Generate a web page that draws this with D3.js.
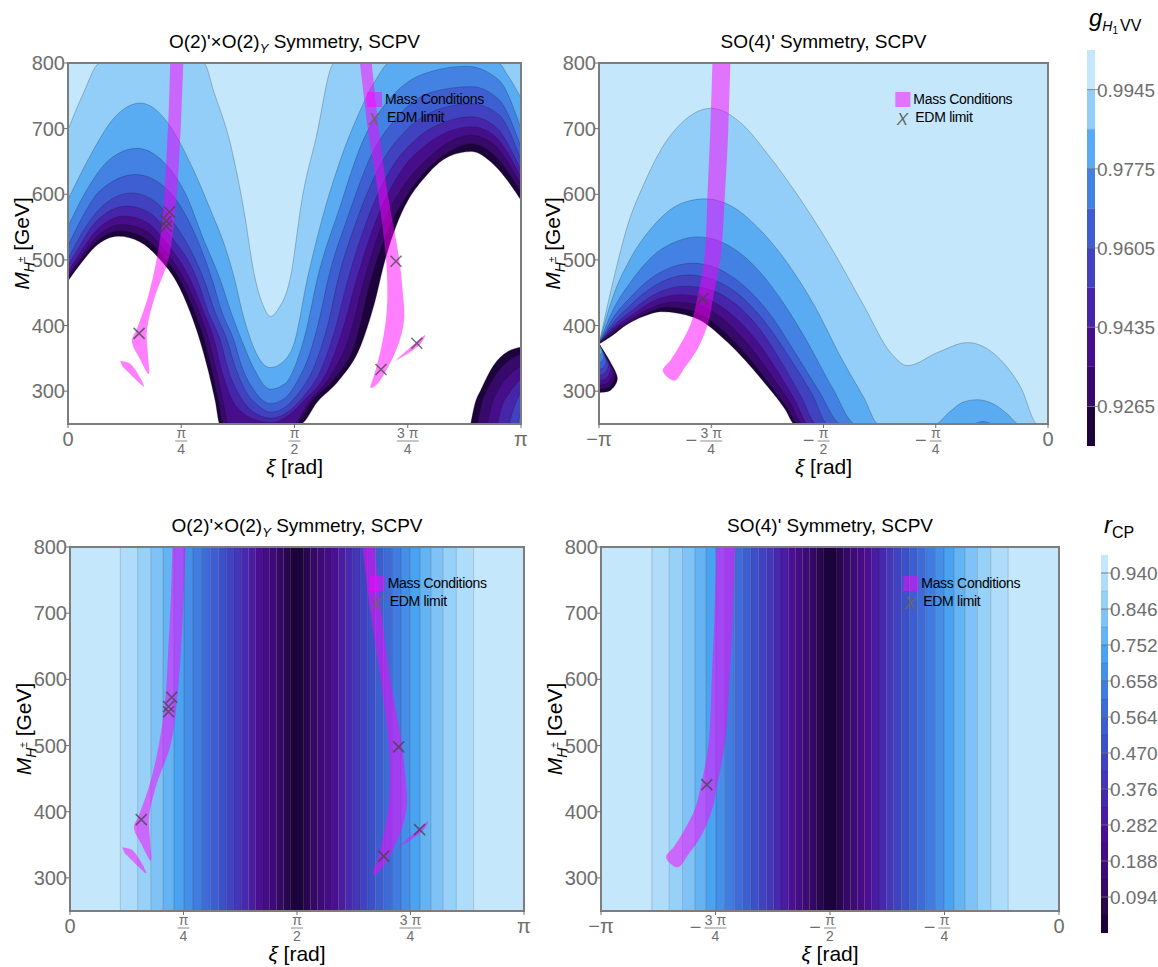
<!DOCTYPE html>
<html>
<head>
<meta charset="utf-8">
<script src="https://cdn.jsdelivr.net/npm/d3@7"></script>
<style>
  body { margin: 0; background: #fff; }
  svg text { font-family: "Liberation Sans", Arial, sans-serif; }
</style>
</head>
<body>
<svg id="chart" width="1158" height="967"></svg>
<script>
// ---- data ----
var gBandEdges = [0.918, 0.9265, 0.935, 0.9435, 0.952, 0.9605, 0.969, 0.9775, 0.986, 0.9945, 1.003]
var gTickValues = [0.9265, 0.9435, 0.9605, 0.9775, 0.9945]
var rBandEdges = [0, 0.047, 0.094, 0.141, 0.188, 0.235, 0.282, 0.329, 0.376, 0.423, 0.470,
                  0.517, 0.564, 0.611, 0.658, 0.705, 0.752, 0.799, 0.846, 0.893, 0.940, 0.987]
var rTickValues = [0.094, 0.188, 0.282, 0.376, 0.470, 0.564, 0.658, 0.752, 0.846, 0.940]
var colorStops = ["#1d033b", "#3a0a70", "#4b0f93", "#4530b5", "#3c50c9", "#3f72dc", "#4aa3f0", "#8ccbf7", "#c4e7fc"]

var yTickValues = [300, 400, 500, 600, 700, 800]
var xTicksO2 = [{v: 0, text: "0"}, {v: 0.25, num: "π", den: "4"}, {v: 0.5, num: "π", den: "2"},
                {v: 0.75, num: "3 π", den: "4"}, {v: 1, text: "π"}]
var xTicksSO4 = [{v: -1, text: "−π"}, {v: -0.75, neg: true, num: "3 π", den: "4"},
                 {v: -0.5, neg: true, num: "π", den: "2"}, {v: -0.25, neg: true, num: "π", den: "4"}, {v: 0, text: "0"}]

// g_H1VV contour levels, O(2)'xO(2)_Y panel: [xi/pi, M_H+ GeV], level 0.918 ... 0.9945
var o2Contours = [
  [[0,468],[0.03,496],[0.06,520],[0.111,536],[0.16,527],[0.2,503],[0.24,466],[0.27,420],[0.29,380],[0.31,330],[0.325,285],[0.335,250],[0.513,250],[0.55,283],[0.60,318],[0.646,369],[0.675,430],[0.70,500],[0.724,551],[0.75,590],[0.783,622],[0.842,658],[0.89,665],[0.94,645],[1,591]],
  [[0,472],[0.03,501],[0.06,526],[0.115,544],[0.165,535],[0.205,510],[0.25,466],[0.28,420],[0.30,380],[0.318,330],[0.332,285],[0.343,250],[0.503,250],[0.54,286],[0.592,322],[0.635,375],[0.665,460],[0.70,535],[0.75,600],[0.80,643],[0.85,668],[0.89,677],[0.94,660],[1,603]],
  [[0,476],[0.03,506],[0.06,533],[0.12,554],[0.17,545],[0.21,518],[0.26,466],[0.29,420],[0.31,380],[0.328,330],[0.342,285],[0.355,250],[0.498,250],[0.53,282],[0.582,326],[0.622,385],[0.652,465],[0.69,548],[0.74,612],[0.80,658],[0.85,683],[0.89,690],[0.94,676],[1,614]],
  [[0,482],[0.03,514],[0.06,543],[0.125,567],[0.175,557],[0.215,528],[0.27,470],[0.30,420],[0.322,380],[0.34,330],[0.36,290],[0.39,265],[0.42,255],[0.45,252],[0.48,260],[0.52,285],[0.572,330],[0.607,395],[0.637,470],[0.68,560],[0.73,630],[0.79,675],[0.85,698],[0.89,703],[0.94,690],[1,625]],
  [[0,491],[0.03,526],[0.06,557],[0.13,582],[0.18,572],[0.22,542],[0.285,470],[0.31,420],[0.335,380],[0.355,330],[0.38,292],[0.41,268],[0.447,259],[0.48,266],[0.52,292],[0.56,335],[0.59,395],[0.618,470],[0.66,560],[0.71,635],[0.77,685],[0.84,712],[0.89,718],[0.94,705],[1,637]],
  [[0,501],[0.03,540],[0.07,578],[0.14,602],[0.19,590],[0.235,555],[0.30,470],[0.325,420],[0.35,380],[0.37,335],[0.395,297],[0.42,278],[0.447,268],[0.48,276],[0.51,298],[0.545,340],[0.575,405],[0.596,470],[0.64,565],[0.69,645],[0.75,700],[0.82,730],[0.89,738],[0.95,722],[1,652]],
  [[0,521],[0.03,563],[0.07,605],[0.15,630],[0.2,618],[0.25,580],[0.318,470],[0.34,420],[0.365,380],[0.385,335],[0.41,302],[0.447,281],[0.48,290],[0.51,320],[0.53,350],[0.555,410],[0.574,470],[0.62,570],[0.67,660],[0.73,720],[0.80,755],[0.89,764],[0.95,745],[1,672]],
  [[0,551],[0.04,605],[0.09,652],[0.152,670],[0.21,650],[0.26,600],[0.30,530],[0.336,470],[0.36,420],[0.385,375],[0.41,335],[0.447,303],[0.48,312],[0.505,345],[0.525,390],[0.55,470],[0.60,580],[0.65,680],[0.71,745],[0.78,782],[0.88,795],[0.95,775],[1,700]],
  [[0,592],[0.05,660],[0.1,715],[0.16,739],[0.2,725],[0.226,703],[0.277,637],[0.314,577],[0.351,511],[0.368,470],[0.385,420],[0.40,385],[0.42,352],[0.447,336],[0.475,345],[0.50,375],[0.528,470],[0.56,560],[0.60,650],[0.64,720],[0.68,775],[0.71,800],[0.95,800],[0.97,782],[1,747]],
  [[0,698],[0.034,754],[0.071,800],[0.299,800],[0.323,754],[0.358,678],[0.388,577],[0.412,475],[0.43,432],[0.447,414],[0.465,426],[0.49,470],[0.518,598],[0.547,684],[0.588,800],[1,800]]
]
// island in the lower right corner of the O(2) panel (levels 0.918 ... 0.9605)
var o2Island = [
  [[0.889,250],[0.898,280],[0.912,303],[0.94,340],[0.97,360],[1,367]],
  [[0.904,250],[0.912,278],[0.93,308],[0.955,335],[0.98,350],[1,357]],
  [[0.926,250],[0.935,278],[0.95,302],[0.975,325],[1,338]],
  [[0.948,250],[0.957,275],[0.975,298],[1,319]],
  [[0.974,250],[0.983,272],[1,299]],
  [[0.993,250],[1,270]]
]

// SO(4)' panel contours, same levels
var so4Contours = [
  [[-1,372],[-0.97,385],[-0.937,402],[-0.9,414],[-0.862,421],[-0.787,412],[-0.713,374],[-0.638,318],[-0.586,273],[-0.564,250],[0,250]],
  [[-1,372],[-0.97,388],[-0.93,405],[-0.89,420],[-0.85,428],[-0.79,422],[-0.73,396],[-0.67,354],[-0.62,310],[-0.585,278],[-0.556,250],[0,250]],
  [[-1,372],[-0.97,391],[-0.93,409],[-0.88,428],[-0.835,436],[-0.78,432],[-0.72,408],[-0.66,365],[-0.61,318],[-0.575,283],[-0.546,250],[0,250]],
  [[-1,372],[-0.97,394],[-0.93,414],[-0.88,437],[-0.82,447],[-0.77,443],[-0.71,420],[-0.65,378],[-0.60,328],[-0.565,288],[-0.533,250],[0,250]],
  [[-1,372],[-0.97,398],[-0.93,421],[-0.88,446],[-0.81,460],[-0.76,456],[-0.70,435],[-0.64,393],[-0.59,340],[-0.55,292],[-0.515,250],[0,250]],
  [[-1,372],[-0.97,403],[-0.93,431],[-0.88,459],[-0.80,477],[-0.75,471],[-0.69,448],[-0.63,405],[-0.57,345],[-0.525,295],[-0.49,250],[0,250]],
  [[-1,372],[-0.97,410],[-0.93,443],[-0.88,474],[-0.79,495],[-0.74,488],[-0.68,462],[-0.62,418],[-0.56,355],[-0.51,300],[-0.46,250],[0,250]],
  [[-1,372],[-0.97,422],[-0.93,466],[-0.88,506],[-0.82,530],[-0.78,535],[-0.72,525],[-0.66,495],[-0.60,445],[-0.54,380],[-0.48,305],[-0.428,250],[-0.17,250],[-0.145,254],[-0.12,250],[0,250]],
  [[-1,372],[-0.97,442],[-0.93,502],[-0.88,551],[-0.82,585],[-0.765,593],[-0.70,580],[-0.64,545],[-0.58,495],[-0.52,430],[-0.46,350],[-0.41,290],[-0.377,250],[-0.252,250],[-0.22,268],[-0.19,283],[-0.158,287],[-0.12,280],[-0.09,265],[-0.064,250],[0,250]],
  [[-1,372],[-0.966,475],[-0.937,551],[-0.899,617],[-0.862,668],[-0.817,708],[-0.75,731],[-0.683,708],[-0.623,660],[-0.559,600],[-0.485,521],[-0.41,430],[-0.351,359],[-0.313,339],[-0.246,359],[-0.179,374],[-0.112,352],[-0.06,305],[-0.023,250],[0,250]]
]
// small lobe at the left edge of the SO(4)' panel
var so4Island = [
  [[-1,372],[-0.975,345],[-0.959,318],[-0.975,301],[-1,298]],
  [[-1,372],[-0.979,347],[-0.964,322],[-0.979,306],[-1,303]],
  [[-1,372],[-0.982,349],[-0.969,327],[-0.982,312],[-1,309]],
  [[-1,372],[-0.985,352],[-0.974,333],[-0.985,319],[-1,316]],
  [[-1,372],[-0.988,355],[-0.979,339],[-0.988,327],[-1,324]],
  [[-1,372],[-0.99,358],[-0.984,346],[-0.99,336],[-1,333]],
  [[-1,372],[-0.993,362],[-0.989,353],[-0.993,346],[-1,343]],
  [[-1,372],[-0.996,366],[-0.993,360],[-0.996,356],[-1,354]],
  [[-1,372],[-0.998,369],[-0.997,366],[-0.998,365],[-1,364]]
]

// r_CP band boundaries (xi/pi)
var rcpEdges = [0.111,0.149,0.178,0.205,0.229,0.251,0.271,0.291,0.309,0.327,0.344,0.361,0.377,0.393,0.409,0.425,0.440,0.455,0.470,0.485,
                0.515,0.530,0.545,0.560,0.575,0.591,0.607,0.623,0.639,0.656,0.673,0.691,0.709,0.729,0.749,0.771,0.795,0.822,0.851,0.889]

// mass condition regions (outlines) and EDM limit points
var massO2 = [
  [[0.226,810],[0.222,720],[0.216,640],[0.211,578],[0.196,502],[0.175,440],[0.152,395],[0.141,376],[0.158,350],[0.178,326],[0.176,360],[0.174,391],[0.19,440],[0.222,502],[0.237,578],[0.245,650],[0.25,720],[0.255,810]],
  [[0.115,346],[0.137,342],[0.168,307],[0.12,338]],
  [[0.643,810],[0.662,700],[0.684,603],[0.702,502],[0.705,451],[0.702,410],[0.691,365],[0.676,325],[0.668,305],[0.680,309],[0.709,340],[0.731,375],[0.742,410],[0.739,451],[0.731,502],[0.705,603],[0.686,700],[0.669,810]],
  [[0.722,346],[0.755,366],[0.788,385],[0.778,372],[0.745,355]]
]
var massSO4 = [
  [[-0.747,810],[-0.752,700],[-0.758,606],[-0.765,505],[-0.78,445],[-0.795,404],[-0.82,370],[-0.84,348],[-0.858,331],[-0.832,316],[-0.81,335],[-0.78,365],[-0.757,404],[-0.745,445],[-0.729,505],[-0.719,606],[-0.712,700],[-0.707,810]]
]
var edmO2 = [[0.224,573],[0.217,559],[0.217,551],[0.157,388],[0.724,498],[0.770,373],[0.691,333]]
var edmSO4 = [[-0.769,441]]

// ---- drawing ----
var svg = d3.select("#chart")
var defs = svg.append("defs")
var interp = d3.piecewise(d3.interpolateRgb, colorStops)
function gColor(k) { return interp(k / (gBandEdges.length - 2)) }
function rColor(k) { return interp(k / (rBandEdges.length - 2)) }

var panels = [
  {id: "tl", x0: 68, x1: 521, y0: 63, y1: 424, dom: [0, 1], ticks: xTicksO2, kind: "g", contours: o2Contours, island: o2Island, mass: massO2, edm: edmO2, title: "o2"},
  {id: "tr", x0: 599, x1: 1048, y0: 63, y1: 424, dom: [-1, 0], ticks: xTicksSO4, kind: "g", contours: so4Contours, loops: so4Island, mass: massSO4, edm: edmSO4, title: "so4"},
  {id: "bl", x0: 70, x1: 524, y0: 547, y1: 911, dom: [0, 1], ticks: xTicksO2, kind: "r", offset: 0, mass: massO2, edm: edmO2, title: "o2"},
  {id: "br", x0: 601, x1: 1059, y0: 547, y1: 911, dom: [-1, 0], ticks: xTicksSO4, kind: "r", offset: -1, mass: massSO4, edm: edmSO4, title: "so4"}
]

var tickGray = "#6e6e6e"

function drawPanel(p) {
    let x = d3.scaleLinear().domain(p.dom).range([p.x0, p.x1])
    let y = d3.scaleLinear().domain([250, 800]).range([p.y1, p.y0])

    defs.append("clipPath").attr("id", "clip_" + p.id)
        .append("rect").attr("x", p.x0).attr("y", p.y0)
        .attr("width", p.x1 - p.x0).attr("height", p.y1 - p.y0)
    let g = svg.append("g").attr("clip-path", "url(#clip_" + p.id + ")")

    if (p.kind === "g") {
        let above = d3.area().x(d => x(d[0])).y0(p.y0).y1(d => y(d[1])).curve(d3.curveMonotoneX)
        let line = d3.line().x(d => x(d[0])).y(d => y(d[1])).curve(d3.curveMonotoneX)
        p.contours.forEach((c, k) => {
            g.append("path").attr("d", above(c)).attr("fill", gColor(k))
        })
        p.contours.forEach(c => {
            g.append("path").attr("d", line(c)).attr("fill", "none")
                .attr("stroke", "#111").attr("stroke-opacity", 0.4).attr("stroke-width", 0.6)
        })
        if (p.island) {
            let below = d3.area().x(d => x(d[0])).y0(p.y1).y1(d => y(d[1])).curve(d3.curveMonotoneX)
            p.island.forEach((c, k) => {
                g.append("path").attr("d", below(c)).attr("fill", gColor(k))
                    .attr("stroke", "#111").attr("stroke-opacity", 0.4).attr("stroke-width", 0.6)
            })
        }
        if (p.loops) {
            let loop = d3.line().x(d => x(d[0])).y(d => y(d[1])).curve(d3.curveCatmullRom)
            p.loops.forEach((c, k) => {
                g.append("path").attr("d", loop(c)).attr("fill", gColor(k))
                    .attr("stroke", "#111").attr("stroke-opacity", 0.4).attr("stroke-width", 0.6)
            })
        }
    } else {
        let edges = [0].concat(rcpEdges, [1]).map(e => e + p.offset)
        let mid = (edges.length - 2) / 2
        for (let i = 0; i < edges.length - 1; i++) {
            g.append("rect")
                .attr("x", x(edges[i])).attr("y", p.y0)
                .attr("width", x(edges[i + 1]) - x(edges[i])).attr("height", p.y1 - p.y0)
                .attr("fill", rColor(Math.abs(mid - i)))
        }
        rcpEdges.forEach(e => {
            g.append("line").attr("x1", x(e + p.offset)).attr("x2", x(e + p.offset))
                .attr("y1", p.y0).attr("y2", p.y1)
                .attr("stroke", "#111").attr("stroke-opacity", 0.3).attr("stroke-width", 0.6)
        })
    }

    // mass conditions
    let shape = d3.line().x(d => x(d[0])).y(d => y(d[1])).curve(d3.curveCatmullRom)
    p.mass.forEach(m => {
        g.append("path").attr("d", shape(m)).attr("fill", "#ff00ff").attr("fill-opacity", 0.5)
    })

    // EDM limit crosses
    p.edm.forEach(d => cross(g, x(d[0]), y(d[1])))

    // legend
    let lx = p.x0 + 0.66 * (p.x1 - p.x0), ly = p.y0 + 29
    svg.append("rect").attr("x", lx).attr("y", ly).attr("width", 15).attr("height", 15)
        .attr("fill", "#ff00ff").attr("fill-opacity", 0.5)
    svg.append("text").attr("x", lx + 18).attr("y", ly + 12).style("font-size", "14px")
        .style("letter-spacing", "-0.3px").text("Mass Conditions")
    svg.append("text").attr("x", lx + 7).attr("y", ly + 33).attr("text-anchor", "middle")
        .style("font-size", "17px").style("font-style", "italic").attr("fill", "#666").text("X")
    svg.append("text").attr("x", lx + 20).attr("y", ly + 30).style("font-size", "14px")
        .style("letter-spacing", "-0.3px").text("EDM limit")

    // frame
    svg.append("rect").attr("x", p.x0).attr("y", p.y0)
        .attr("width", p.x1 - p.x0).attr("height", p.y1 - p.y0)
        .attr("fill", "none").attr("stroke", "#7d7d7d").attr("stroke-width", 2)

    // y ticks
    yTickValues.forEach(v => {
        svg.append("line").attr("x1", p.x0 - 4).attr("x2", p.x0).attr("y1", y(v)).attr("y2", y(v))
            .attr("stroke", tickGray).attr("stroke-width", 1)
        svg.append("text").attr("x", p.x0 - 3).attr("y", y(v) + 7).attr("text-anchor", "end")
            .style("font-size", "20px").attr("fill", tickGray).text(v)
    })
    // x ticks
    p.ticks.forEach(t => {
        let xp = x(t.v)
        svg.append("line").attr("x1", xp).attr("x2", xp).attr("y1", p.y1).attr("y2", p.y1 + 4)
            .attr("stroke", tickGray).attr("stroke-width", 1)
        xTickLabel(xp, p.y1, t)
    })

    // titles and axis labels
    let cx = (p.x0 + p.x1) / 2
    let tt = svg.append("text").attr("x", cx).attr("y", p.y0 - 15).attr("text-anchor", "middle")
        .style("font-size", "19px")
    if (p.title === "o2") {
        tt.append("tspan").text("O(2)'×O(2)")
        tt.append("tspan").attr("dy", 5).style("font-size", "13px").style("font-style", "italic").text("Y")
        tt.append("tspan").attr("dy", -5).text(" Symmetry, SCPV")
    } else {
        tt.text("SO(4)' Symmetry, SCPV")
    }

    let xl = svg.append("text").attr("x", cx).attr("y", p.y1 + 50).attr("text-anchor", "middle")
        .style("font-size", "21px")
    xl.append("tspan").style("font-style", "italic").text("ξ")
    xl.append("tspan").text(" [rad]")

    let yl = svg.append("text")
        .attr("transform", "translate(" + (p.x0 - 39) + "," + ((p.y0 + p.y1) / 2) + ") rotate(-90)")
        .attr("text-anchor", "middle").style("font-size", "21px")
    yl.append("tspan").style("font-style", "italic").text("M")
    yl.append("tspan").attr("dy", 5).style("font-size", "14px").style("font-style", "italic").text("H")
    yl.append("tspan").attr("dy", -9).style("font-size", "10px").text("±")
    yl.append("tspan").attr("dy", 4).text(" [GeV]")
}

function cross(g, cx, cy) {
    let s = 5.5
    g.append("path")
        .attr("d", "M" + (cx - s) + "," + (cy - s) + "L" + (cx + s) + "," + (cy + s) +
                   "M" + (cx + s) + "," + (cy - s) + "L" + (cx - s) + "," + (cy + s))
        .attr("stroke", "#444").attr("stroke-opacity", 0.75).attr("stroke-width", 1.6)
}

function xTickLabel(xp, yb, t) {
    if (t.text) {
        svg.append("text").attr("x", xp).attr("y", yb + 22).attr("text-anchor", "middle")
            .style("font-size", "20px").attr("fill", tickGray).text(t.text)
        return
    }
    let w = t.num.length > 1 ? 22 : 12
    svg.append("text").attr("x", xp).attr("y", yb + 14).attr("text-anchor", "middle")
        .style("font-size", "14px").attr("fill", tickGray).text(t.num)
    svg.append("line").attr("x1", xp - w / 2).attr("x2", xp + w / 2)
        .attr("y1", yb + 17).attr("y2", yb + 17).attr("stroke", tickGray).attr("stroke-width", 0.8)
    svg.append("text").attr("x", xp).attr("y", yb + 30).attr("text-anchor", "middle")
        .style("font-size", "14px").attr("fill", tickGray).text(t.den)
    if (t.neg) {
        svg.append("text").attr("x", xp - w / 2 - 3).attr("y", yb + 23).attr("text-anchor", "end")
            .style("font-size", "20px").attr("fill", tickGray).text("−")
    }
}

panels.forEach(drawPanel)

// ---- colour bars ----
function colorBar(opts) {
    let sc = d3.scaleLinear().domain([opts.edges[0], opts.edges[opts.edges.length - 1]]).range([opts.y1, opts.y0])
    for (let k = 0; k < opts.edges.length - 1; k++) {
        svg.append("rect").attr("x", opts.x).attr("width", opts.w)
            .attr("y", sc(opts.edges[k + 1])).attr("height", sc(opts.edges[k]) - sc(opts.edges[k + 1]))
            .attr("fill", opts.color(k))
        svg.append("line").attr("x1", opts.x).attr("x2", opts.x + opts.w)
            .attr("y1", sc(opts.edges[k])).attr("y2", sc(opts.edges[k]))
            .attr("stroke", "#000").attr("stroke-opacity", 0.15).attr("stroke-width", 0.6)
    }
    opts.ticks.forEach(v => {
        svg.append("line").attr("x1", opts.x).attr("x2", opts.x + opts.w + 3)
            .attr("y1", sc(v)).attr("y2", sc(v)).attr("stroke", "#777").attr("stroke-width", 0.8)
        svg.append("text").attr("x", opts.x + opts.w + 2).attr("y", sc(v) + 7)
            .style("font-size", "19px").attr("fill", tickGray).text(v.toFixed(opts.digits))
    })
}

colorBar({x: 1087, w: 8, y0: 50, y1: 446, edges: gBandEdges, ticks: gTickValues, color: gColor, digits: 4})
colorBar({x: 1101, w: 7, y0: 555, y1: 933, edges: rBandEdges, ticks: rTickValues, color: rColor, digits: 3})

let gt = svg.append("text").attr("x", 1089).attr("y", 26).style("font-size", "24px")
gt.append("tspan").style("font-style", "italic").text("g")
gt.append("tspan").attr("dy", 5).style("font-size", "14px").style("font-style", "italic").text("H")
gt.append("tspan").attr("dy", 3).style("font-size", "10px").text("1")
gt.append("tspan").attr("dy", -3).attr("dx", 2).style("font-size", "16px").text("VV")

let rt = svg.append("text").attr("x", 1104).attr("y", 533).style("font-size", "24px")
rt.append("tspan").style("font-style", "italic").text("r")
rt.append("tspan").attr("dy", 5).style("font-size", "16px").text("CP")
</script>
</body>
</html>
